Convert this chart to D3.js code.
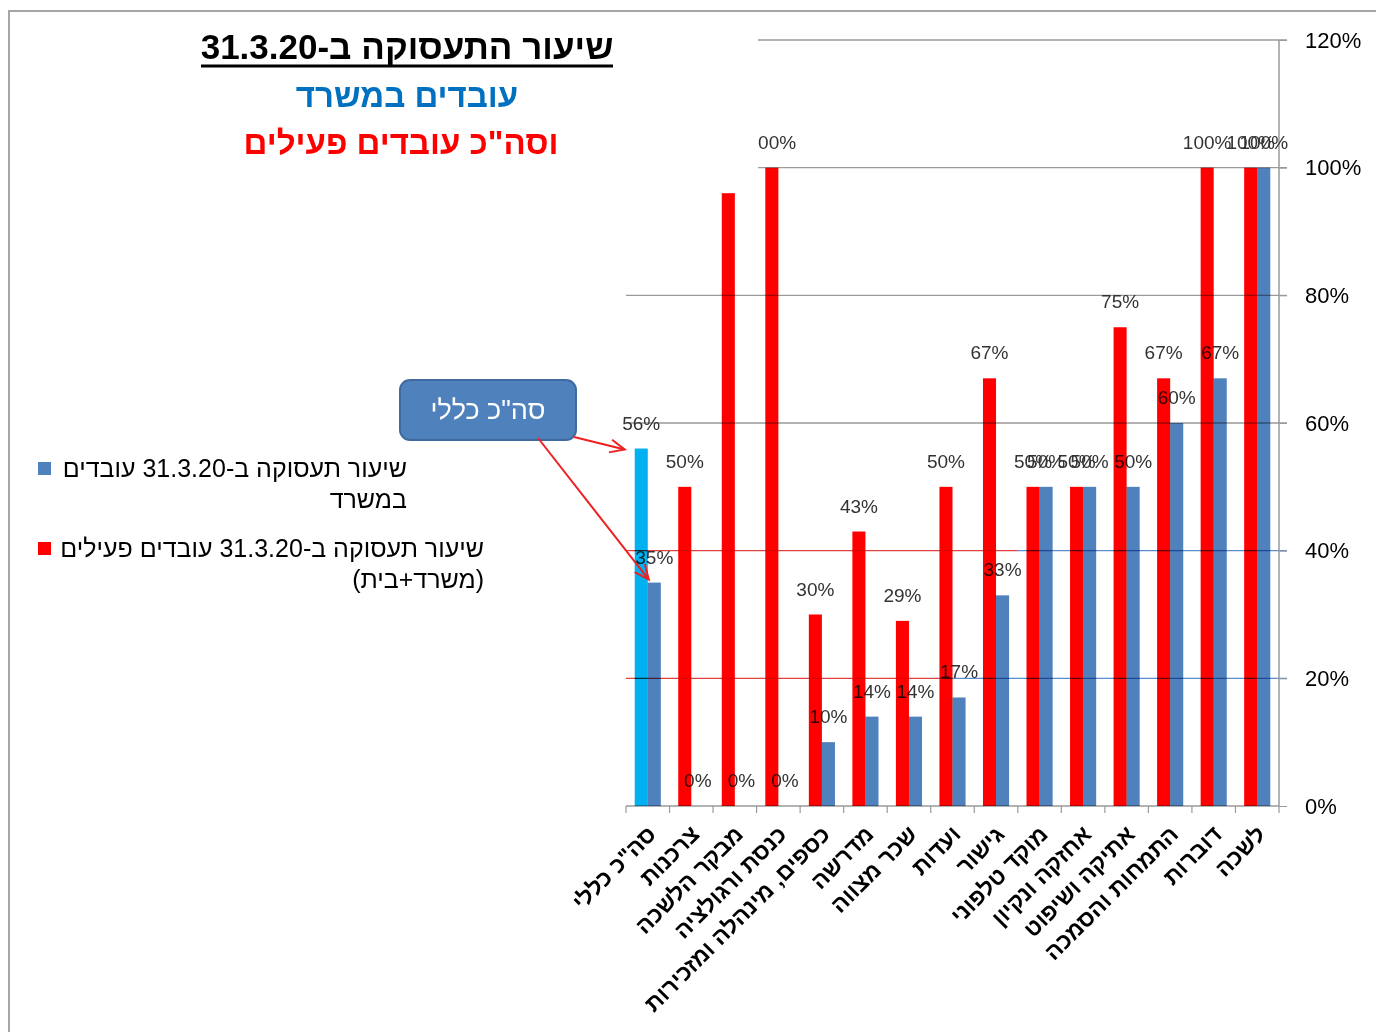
<!DOCTYPE html>
<html>
<head>
<meta charset="utf-8">
<script src="https://cdn.jsdelivr.net/npm/d3@7"></script>
<style>
  html, body { margin: 0; padding: 0; background: #fff; }
  svg { display: block; font-family: "Liberation Sans", Arial, sans-serif; }
</style>
</head>
<body>
<svg id="chart" width="1376" height="1032"></svg>
<script>
// ---- data ----
const categories = ['סה"כ כללי', 'צרכנות', 'מבקר הלשכה', 'כנסת ורגולציה', 'כספים, מינהלה ומזכירות', 'מדרשה', 'שכר מצווה', 'ועדות', 'גישור', 'מוקד טלפוני', 'אחזקה ונקיון', 'אתיקה ושיפוט', 'התמחות והסמכה', 'דוברות', 'לשכה'];
const activeTotal = [56, 50, 96, 100, 30, 43, 29, 50, 67, 50, 50, 75, 67, 100, 100]; // משרד+בית
const officeOnly  = [35, 0, 0, 0, 10, 14, 14, 17, 33, 50, 50, 50, 60, 67, 100];      // משרד
const yTicks = [0, 20, 40, 60, 80, 100, 120];
const legendLines = [['שיעור תעסוקה ב-31.3.20 עובדים', 'במשרד'], ['שיעור תעסוקה ב-31.3.20 עובדים פעילים', '(משרד+בית)']];
const titleLines = ['שיעור התעסוקה ב-31.3.20', 'עובדים במשרד', 'וסה"כ עובדים פעילים'];
const calloutText = 'סה"כ כללי';

const RED = '#ff0000', BLUE = '#4f81bd', CYAN = '#00b0f0';

const svg = d3.select('#chart');

// frame
svg.append('path').attr('d', 'M9,1032 L9,11 L1376,11').attr('fill', 'none').attr('stroke', '#a6a6a6').attr('stroke-width', 2);

const x = d3.scaleBand().domain(categories).range([626, 1279]);
const x1 = d3.scaleBand().domain(['active', 'office']).range([x.bandwidth() * 0.2, x.bandwidth() * 0.8]);
const y = d3.scaleLinear().domain([0, 120]).range([806, 40]);

// gridlines
const grid = svg.append('g');
yTicks.filter(t => t > 0).forEach(t => {
  if (t === 40 || t === 20) {
    const split = t === 40 ? x(categories[9]) : x(categories[7]) + 10;
    grid.append('line').attr('x1', 626).attr('x2', split).attr('y1', y(t)).attr('y2', y(t)).attr('stroke', '#e04040').attr('stroke-width', 1.3);
    grid.append('line').attr('x1', split).attr('x2', 1287).attr('y1', y(t)).attr('y2', y(t)).attr('stroke', '#5b8ccc').attr('stroke-width', 1.3);
  } else {
    grid.append('line').attr('x1', 626).attr('x2', 1287).attr('y1', y(t)).attr('y2', y(t)).attr('stroke', '#9a9a9a').attr('stroke-width', 1.3);
  }
});

// axes
const yAxis = d3.axisRight(y).tickValues(yTicks).tickFormat(d => d + '%').tickSize(8).tickPadding(18);
const gy = svg.append('g').attr('transform', 'translate(1279,0)').call(yAxis);
gy.select('.domain').attr('stroke', '#9a9a9a').attr('stroke-width', 1.5).attr('d', `M0,${y(120)}V${y(0)}`);
gy.selectAll('.tick line').attr('stroke', '#9a9a9a');
gy.selectAll('.tick text').attr('font-size', 22).attr('fill', '#000').attr('font-family', '"Liberation Sans", Arial, sans-serif');

// x axis line and tick marks at band boundaries
svg.append('line').attr('x1', 626).attr('x2', 1279).attr('y1', y(0)).attr('y2', y(0)).attr('stroke', '#9a9a9a').attr('stroke-width', 1.5);
const boundaries = categories.map(c => x(c)).concat([x.range()[1]]);
svg.append('g').selectAll('line').data(boundaries).join('line')
  .attr('x1', d => d).attr('x2', d => d).attr('y1', y(0)).attr('y2', y(0) + 7)
  .attr('stroke', '#9a9a9a').attr('stroke-width', 1.2);

// x labels
svg.append('g').selectAll('text').data(categories).join('text')
  .attr('transform', d => `translate(${x(d) + x.bandwidth() / 2 + 4},${y(0) + 24}) rotate(-45)`)
  .attr('direction', 'rtl')
  .attr('text-anchor', 'start')
  .attr('dy', '0.35em')
  .attr('font-size', 23).attr('font-weight', 'bold').attr('fill', '#000')
  .text(d => d);

// data labels (under bars)
const labelData = [];
categories.forEach((c, i) => {
  labelData.push({ cx: x(c) + x1('active') + x1.bandwidth() / 2, v: activeTotal[i] });
  labelData.push({ cx: x(c) + x1('office') + x1.bandwidth() / 2, v: officeOnly[i] });
});
svg.append('g').selectAll('text').data(labelData).join('text')
  .attr('x', d => d.cx).attr('y', d => y(d.v) - 19)
  .attr('text-anchor', 'middle').attr('font-size', 19).attr('fill', '#333')
  .text(d => d.v + '%');

// bars
const bars = svg.append('g');
bars.selectAll('rect.office').data(categories).join('rect').attr('class', 'office')
  .attr('x', c => x(c) + x1('office')).attr('width', x1.bandwidth())
  .attr('y', (c, i) => y(officeOnly[i])).attr('height', (c, i) => y(0) - y(officeOnly[i]))
  .attr('fill', BLUE).style('mix-blend-mode', 'multiply');
bars.selectAll('rect.active').data(categories).join('rect').attr('class', 'active')
  .attr('x', c => x(c) + x1('active')).attr('width', x1.bandwidth())
  .attr('y', (c, i) => y(activeTotal[i])).attr('height', (c, i) => y(0) - y(activeTotal[i]))
  .attr('fill', (c, i) => i === 0 ? CYAN : RED).style('mix-blend-mode', 'multiply');

// title block (white box covering top-left of plot)
svg.append('rect').attr('x', 150).attr('y', 14).attr('width', 608).attr('height', 168).attr('fill', '#fff');
const tColors = ['#000', '#0070c0', '#ff0000'];
const tY = [47, 95, 142];
const tSize = [35, 33, 33];
titleLines.forEach((t, i) => {
  svg.append('text').attr('x', i === 2 ? 401 : 407).attr('y', tY[i]).attr('dy', '0.35em')
    .attr('direction', 'rtl').attr('text-anchor', 'middle')
    .attr('font-size', tSize[i]).attr('font-weight', 'bold').attr('fill', tColors[i])
    .text(t);
});
svg.append('line').attr('x1', 201).attr('x2', 613).attr('y1', 66).attr('y2', 66).attr('stroke', '#000').attr('stroke-width', 3);

// legend
const legColors = [BLUE, RED];
const legRight = [407, 484];
const legTop = [468, 548];
legendLines.forEach((lines, i) => {
  svg.append('rect').attr('x', 38).attr('y', legTop[i] - 6).attr('width', 13).attr('height', 13).attr('fill', legColors[i]);
  lines.forEach((ln, j) => {
    svg.append('text').attr('x', legRight[i]).attr('y', legTop[i] + j * 31).attr('dy', '0.35em')
      .attr('direction', 'rtl').attr('text-anchor', 'start')
      .attr('font-size', 25).attr('fill', '#000').text(ln);
  });
});

// callout
svg.append('rect').attr('x', 400).attr('y', 380).attr('width', 176).attr('height', 60).attr('rx', 10)
  .attr('fill', '#4f81bd').attr('stroke', '#3f6aa0').attr('stroke-width', 2);
svg.append('text').attr('x', 488).attr('y', 410).attr('dy', '0.35em').attr('direction', 'rtl')
  .attr('text-anchor', 'middle').attr('font-size', 27).attr('fill', '#fff').text(calloutText);

function arrow(x0, y0, x1_, y1_) {
  const ang = Math.atan2(y1_ - y0, x1_ - x0);
  const L = 16, a = 0.42;
  const g = svg.append('g').attr('stroke', '#f02020').attr('stroke-width', 2).attr('fill', 'none');
  g.append('line').attr('x1', x0).attr('y1', y0).attr('x2', x1_).attr('y2', y1_);
  g.append('path').attr('d', `M${x1_ - L * Math.cos(ang - a)},${y1_ - L * Math.sin(ang - a)} L${x1_},${y1_} L${x1_ - L * Math.cos(ang + a)},${y1_ - L * Math.sin(ang + a)}`);
}
const c0 = categories[0];
arrow(574, 437, x(c0) + x1('active') - 10, y(activeTotal[0]) + 1);
arrow(538, 438, x(c0) + x1('office') + 1, y(officeOnly[0]) - 3);
</script>
</body>
</html>
